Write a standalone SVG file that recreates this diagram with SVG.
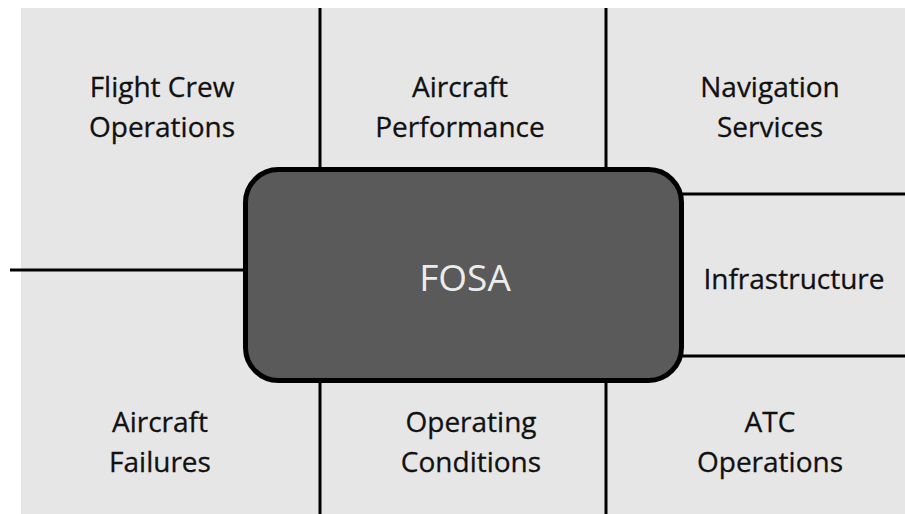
<svg xmlns="http://www.w3.org/2000/svg" width="905" height="514" viewBox="0 0 905 514">
<style>
.lbl{font-family:"Open Sans","Liberation Sans",sans-serif;font-size:28px;fill:#111;stroke:#111;stroke-width:0.3;text-anchor:middle}
.ln{stroke:#000;stroke-width:3;fill:none}
.hub{fill:#5a5a5a;stroke:#000;stroke-width:5}
.hubt{font-family:"Open Sans","Liberation Sans",sans-serif;font-size:37px;fill:#ececec;text-anchor:middle}
</style>
<rect x="0" y="0" width="905" height="514" fill="#fff"/>
<rect x="21" y="8" width="884" height="506" fill="#e6e6e6"/>
<g id="connectors">
<line class="ln" x1="320" y1="8" x2="320" y2="169"/>
<line class="ln" x1="606" y1="8" x2="606" y2="169"/>
<line class="ln" x1="320" y1="381" x2="320" y2="514"/>
<line class="ln" x1="606" y1="381" x2="606" y2="514"/>
<line class="ln" x1="10" y1="270" x2="245" y2="270"/>
<line class="ln" x1="682" y1="194" x2="905" y2="194"/>
<line class="ln" x1="682" y1="356" x2="905" y2="356"/>
</g>
<g id="fosa">
<rect class="hub" x="245.5" y="169.5" width="436" height="211" rx="33" ry="33"/>
<text class="hubt" x="465" y="291">FOSA</text>
</g>
<g id="flight-crew-operations">
<text class="lbl" x="162" y="97">Flight Crew</text>
<text class="lbl" x="162" y="137">Operations</text>
</g>
<g id="aircraft-performance">
<text class="lbl" x="460" y="97">Aircraft</text>
<text class="lbl" x="460" y="137">Performance</text>
</g>
<g id="navigation-services">
<text class="lbl" x="770" y="97">Navigation</text>
<text class="lbl" x="770" y="137">Services</text>
</g>
<g id="infrastructure">
<text class="lbl" x="794" y="289">Infrastructure</text>
</g>
<g id="aircraft-failures">
<text class="lbl" x="160" y="432">Aircraft</text>
<text class="lbl" x="160" y="472">Failures</text>
</g>
<g id="operating-conditions">
<text class="lbl" x="471" y="432">Operating</text>
<text class="lbl" x="471" y="472">Conditions</text>
</g>
<g id="atc-operations">
<text class="lbl" x="770" y="432">ATC</text>
<text class="lbl" x="770" y="472">Operations</text>
</g>
</svg>
